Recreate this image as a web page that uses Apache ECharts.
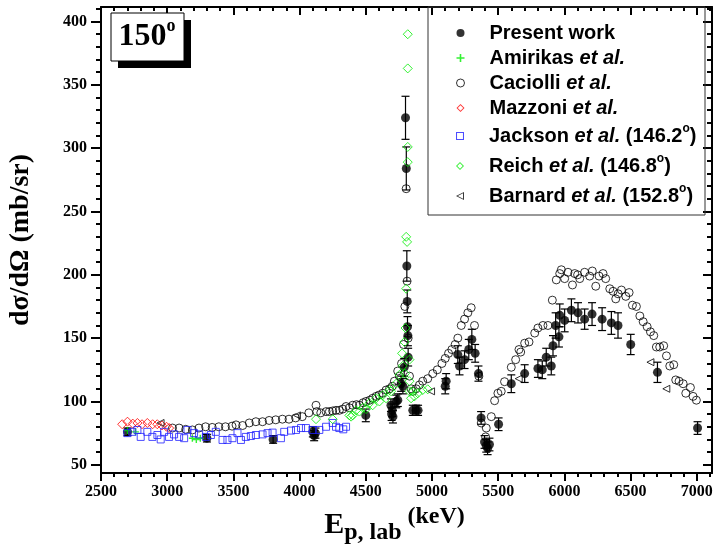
<!DOCTYPE html>
<html><head><meta charset="utf-8">
<script src="https://cdn.jsdelivr.net/npm/echarts@6/dist/echarts.min.js"></script>
<style>html,body{margin:0;padding:0;background:#fff}#c{width:718px;height:545px}</style>
</head><body><div id="c"></div>
<script>
// ---------- tick labels ----------
const xTicks = [2500, 3000, 3500, 4000, 4500, 5000, 5500, 6000, 6500, 7000];
const yTicks = [50, 100, 150, 200, 250, 300, 350, 400];

// ---------- series names ----------
const seriesNames = ['Present work', 'Amirikas et al.', 'Caciolli et al.', 'Mazzoni et al.',
  'Jackson et al. (146.2o)', 'Reich et al. (146.8o)', 'Barnard et al. (152.8o)'];

// ---------- data: [E_p (keV), dsigma/dOmega (mb/sr)] ----------
const presentWork = [
  [2700,76],[3300,71],[3800,70],[4100,76],[4110,73],[4120,75],[4500,89],
  [4690,97],[4695,90],[4700,93],[4705,88],[4730,100],[4742,101],[4767,114],[4780,112],
  [4790,127],[4800,324],[4806,284],[4810,207],[4813,179],[4815,159],[4818,152],[4820,135],
  [4855,93],[4880,93],[4895,93],[5100,112],[5107,116],
  [5195,137],[5208,128],[5246,133],[5278,141],[5301,149],[5326,138],[5351,122],[5371,87],
  [5397,68],[5410,65],[5420,63],[5434,66],[5503,82],[5599,114],[5700,122],[5800,126],
  [5833,125],[5863,135],[5901,128],[5914,144],[5934,160],[5959,151],[5965,168],[6002,164],
  [6053,172],[6103,170],[6153,165],[6209,169],[6285,165],[6355,162],[6405,160],[6501,145],
  [6703,123],[7006,79]
];
const presentErr = [
  3,3,3,4,4,4,5,
  5,5,5,5,5,5,6,6,
  7,17,17,12,9,8,8,7,
  4,4,4,6,6,
  7,7,7,8,8,7,6,5,
  5,5,5,5,5,7,7,7,
  7,7,7,8,10,8,9,9,
  9,8,8,9,9,9,10,8,
  8,5
];
const amirikas = [
  [2700,77],[2760,76],[3190,71],[3220,70],[3250,71]
];
const caciolli = [
  [3040,79],[3090,79],[3140,78],[3190,77.5],[3240,79],[3290,80],[3340,79.5],[3390,80],
  [3440,80],[3490,80.5],[3520,81.5],[3570,81],[3620,83],[3670,84],[3720,84],[3770,85],
  [3820,85.5],[3870,86],[3920,86],[3970,87],[4020,88],[4070,91],[4124,97],[4130,92],
  [4160,91],[4200,92],[4225,92],[4250,92.5],[4275,93],[4300,93],[4326,94],[4351,96],
  [4376,95],[4401,97],[4430,97.5],[4452,97],[4480,99],[4502,100],[4530,101],[4552,102.5],
  [4578,104],[4600,105],[4628,106.5],[4653,109],[4679,110],[4700,112],[4716,116],[4741,124],
  [4754,120],[4770,130],[4785,145],[4795,175],[4805,268],[4812,195],[4820,150],[4830,120],
  [4842,110],[4855,108],[4880,110],[4905,113],[4930,116],[4968,118],[5006,122],[5040,125],
  [5075,130],[5100,134],[5125,138],[5150,141],[5175,145],[5195,150],[5221,160],[5246,165],
  [5271,170],[5296,174],[5321,160],[5354,120],[5372,83],[5405,72],[5410,79],[5448,88],
  [5473,100.6],[5498,106.5],[5523,108],[5548,115.6],[5599,127],[5632,133],[5657,141],[5670,139],
  [5700,146],[5733,147],[5776,154],[5800,158],[5838,160],[5876,160],[5909,180],[5939,196],
  [5965,201],[5977,204],[6002,197],[6027,202],[6061,192],[6078,201],[6100,200],[6116,197],
  [6153,202],[6191,199],[6211,203],[6237,191],[6262,199],[6292,201],[6312,197],[6343,189],
  [6368,187],[6388,181],[6406,185],[6431,188],[6464,183],[6489,186],[6514,176],[6544,175],
  [6570,167.5],[6595,163],[6625,159],[6650,155],[6675,152],[6695,143],[6720,143],[6750,144],
  [6771,136],[6796,128],[6826,129],[6841,117],[6866,116],[6897,114],[6917,106.5],[6952,111],
  [6972,104],[6997,101]
];
const mazzoni = [
  [2660,82],[2700,84],[2740,82.5],[2775,83],[2810,82],[2850,83],[2890,82],[2925,82],
  [2960,81],[2995,80],[3015,79]
];
const jackson = [
  [2699,75],[2737,76],[2775,77.5],[2800,72],[2850,76],[2888,72],[2926,73.5],[2951,70],
  [2977,76],[3014,72],[3052,74],[3090,72],[3128,71],[3153,77.5],[3203,75],[3241,74],
  [3292,72],[3330,73.5],[3367,76],[3418,69.6],[3455,69.6],[3493,71],[3531,75],[3557,69.6],
  [3594,72],[3632,72.7],[3670,73.5],[3720,74],[3758,75],[3796,75.4],[3859,71],[3884,76],
  [3935,77],[3973,77.5],[4011,79],[4048,79],[4098,77.5],[4149,77.5],[4200,80],[4250,83],
  [4275,80],[4300,79],[4330,78],[4351,80]
];
const reich = [
  [4124,86],[4250,86],[4376,89],[4389,88],[4401,89],[4427,93],[4452,92],[4477,95],
  [4502,94],[4527,98.6],[4552,97],[4578,102.5],[4603,100],[4628,105],[4653,102.5],[4679,109],
  [4691,108],[4729,114],[4754,121],[4774,138],[4779,128],[4792,147],[4795,122],[4800,158],
  [4805,189],[4805,230],[4812,226],[4817,289],[4817,301],[4817,363],[4817,390],[4830,133],
  [4830,116],[4830,108],[4842,102.5],[4855,108],[4867,104],[4893,106.5],[4930,109],[4968,109.6]
];
const barnard = [
  [2950,83],[3980,89],[4993,108],[5350,121],[5655,118],[6650,131],[6770,110]
];

// ---------- styling ----------
const SERIF = '"Liberation Serif","Times New Roman",serif';
const SANS = '"Liberation Sans",Arial,sans-serif';
const X_MIN = 2500, X_MAX = 7115, Y_MIN = 43.5, Y_MAX = 411.5;
const xMinor = []; for (let v = 2600; v < X_MAX; v += 100) if (v % 500) xMinor.push(v);
const yMinor = []; for (let v = 60; v < Y_MAX; v += 10) if (v % 50) yMinor.push(v);

const GREEN = '#00ee00', RED = '#ff0000', BLUE = '#2020ff', BLACK = '#000';
const CLEAR = 'rgba(255,255,255,0)';
const PLUS = 'path://M4,0H6V4H10V6H6V10H4V6H0V4H4Z';
const HOLLOW_DIAMOND = 'path://M5,0L10,5L5,10L0,5Z M5,1.6L1.6,5L5,8.4L8.4,5Z';
const HOLLOW_SQUARE = 'path://M0,0H10V10H0Z M1.3,1.3V8.7H8.7V1.3Z';
const HOLLOW_LTRI = 'path://M0,5L10,0L10,10Z M2.2,5L8.8,8.3L8.8,1.7Z';

function axisCommon(type, pos, ticks, len, inside, showLine) {
  return {
    type: 'value', min: type === 'x' ? X_MIN : Y_MIN, max: type === 'x' ? X_MAX : Y_MAX,
    position: pos, splitLine: {show: false},
    axisLine: {show: showLine, onZero: false, lineStyle: {color: BLACK, width: 2}},
    axisTick: {show: true, inside: inside, length: len, customValues: ticks, lineStyle: {color: BLACK, width: 2}},
    axisLabel: {show: false}
  };
}

const xMain = axisCommon('x', 'bottom', xTicks, 8, false, true);
xMain.axisLabel = {show: true, customValues: xTicks, formatter: v => String(v),
  fontFamily: SERIF, fontWeight: 'bold', fontSize: 16, color: BLACK, margin: 11};
xMain.name = '{e|E}{s|p, lab}{k| (keV)}';
xMain.nameLocation = 'middle';
xMain.nameGap = 25;
xMain.nameTextStyle = {
  padding: [0, 24, 0, 0],
  rich: {
    e: {fontFamily: SERIF, fontWeight: 'bold', fontSize: 30, color: BLACK, lineHeight: 40},
    s: {fontFamily: SERIF, fontWeight: 'bold', fontSize: 24, color: BLACK, lineHeight: 26, verticalAlign: 'bottom'},
    k: {fontFamily: SERIF, fontWeight: 'bold', fontSize: 24, color: BLACK, lineHeight: 34, verticalAlign: 'top'}
  }
};
const yMain = axisCommon('y', 'left', yTicks, 10, false, true);
yMain.axisLabel = {show: true, customValues: yTicks, formatter: v => String(v),
  fontFamily: SERIF, fontWeight: 'bold', fontSize: 16, color: BLACK, margin: 14};
yMain.name = 'dσ/dΩ (mb/sr)';
yMain.nameLocation = 'middle';
yMain.nameRotate = 90;
yMain.nameGap = 66;
yMain.nameTextStyle = {fontFamily: SERIF, fontWeight: 'bold', fontSize: 28, color: BLACK};

const xAxes = [
  xMain,
  axisCommon('x', 'bottom', xMinor, 4, false, false),
  axisCommon('x', 'top', xTicks, 8, true, true),
  axisCommon('x', 'top', xMinor, 4, true, false)
];
const yAxes = [
  yMain,
  axisCommon('y', 'left', yMinor, 5, false, false),
  axisCommon('y', 'right', yTicks, 9, true, true),
  axisCommon('y', 'right', yMinor, 5, true, false)
];

const legendText = {
  'Present work': '{g|}{n|Present work}',
  'Amirikas et al.': '{g|}{n|Amirikas }{i|et al.}',
  'Caciolli et al.': '{g|}{n|Caciolli }{i|et al.}',
  'Mazzoni et al.': '{g|}{n|Mazzoni }{i|et al.}',
  'Jackson et al. (146.2o)': '{g|}{n|Jackson }{i|et al.}{n| (146.2}{s|o}{n|)}',
  'Reich et al. (146.8o)': '{g|}{n|Reich }{i|et al.}{n| (146.8}{s|o}{n|)}',
  'Barnard et al. (152.8o)': '{g|}{n|Barnard }{i|et al.}{n| (152.8}{s|o}{n|)}'
};
function richFor(lh) {
  return {
    g: {width: 20},
    n: {fontFamily: SANS, fontWeight: 'bold', fontSize: 20, color: BLACK, lineHeight: lh},
    i: {fontFamily: SANS, fontWeight: 'bold', fontStyle: 'italic', fontSize: 20, color: BLACK, lineHeight: lh},
    s: {fontFamily: SANS, fontWeight: 'bold', fontSize: 12, color: BLACK, lineHeight: 17, verticalAlign: 'top'}
  };
}
const legendBase = {
  orient: 'vertical', itemWidth: 8, itemHeight: 8, left: 451,
  formatter: n => legendText[n], selectedMode: false
};

const symbolStyles = {
  'Present work': {symbol: 'circle', size: 9, itemStyle: {color: BLACK},
    icon: 'circle', iconStyle: {color: BLACK}},
  'Amirikas et al.': {symbol: PLUS, size: 7, itemStyle: {color: GREEN},
    icon: PLUS, iconStyle: {color: GREEN}},
  'Caciolli et al.': {symbol: 'circle', size: 8, itemStyle: {color: CLEAR, borderColor: BLACK, borderWidth: 1},
    icon: 'circle', iconStyle: {color: CLEAR, borderColor: BLACK, borderWidth: 1}},
  'Mazzoni et al.': {symbol: 'diamond', size: 9, itemStyle: {color: CLEAR, borderColor: RED, borderWidth: 1},
    icon: HOLLOW_DIAMOND, iconStyle: {color: RED, borderWidth: 0}},
  'Jackson et al. (146.2o)': {symbol: 'rect', size: 7, itemStyle: {color: CLEAR, borderColor: BLUE, borderWidth: 1},
    icon: HOLLOW_SQUARE, iconStyle: {color: BLUE, borderWidth: 0}},
  'Reich et al. (146.8o)': {symbol: 'diamond', size: 9, itemStyle: {color: CLEAR, borderColor: GREEN, borderWidth: 1},
    icon: HOLLOW_DIAMOND, iconStyle: {color: GREEN, borderWidth: 0}},
  'Barnard et al. (152.8o)': {symbol: 'triangle', size: 7, rotate: 90, itemStyle: {color: CLEAR, borderColor: BLACK, borderWidth: 1},
    icon: HOLLOW_LTRI, iconStyle: {color: BLACK, borderWidth: 0}}
};
const seriesData = {
  'Present work': presentWork, 'Amirikas et al.': amirikas, 'Caciolli et al.': caciolli,
  'Mazzoni et al.': mazzoni, 'Jackson et al. (146.2o)': jackson, 'Reich et al. (146.8o)': reich,
  'Barnard et al. (152.8o)': barnard
};
function legendItem(n) {
  const s = symbolStyles[n];
  return {name: n, icon: s.icon, itemStyle: s.iconStyle};
}

const scatterSeries = seriesNames.map((n, k) => {
  const s = symbolStyles[n];
  return {
    type: 'scatter', name: n, data: seriesData[n], symbol: s.symbol, symbolSize: s.size,
    symbolRotate: s.rotate || 0, itemStyle: s.itemStyle, z: 3 + k, silent: true
  };
});

const errorSeries = {
  type: 'custom', name: 'err', z: 2, silent: true,
  data: presentWork.map((p, i) => [p[0], p[1] - presentErr[i], p[1] + presentErr[i]]),
  encode: {x: 0, y: [1, 2]},
  renderItem: function (params, api) {
    const x = api.value(0);
    const lo = api.coord([x, api.value(1)]);
    const hi = api.coord([x, api.value(2)]);
    const w = 4;
    const st = {stroke: BLACK, lineWidth: 1.2};
    return {type: 'group', children: [
      {type: 'line', shape: {x1: lo[0], y1: lo[1], x2: hi[0], y2: hi[1]}, style: st},
      {type: 'line', shape: {x1: lo[0] - w, y1: lo[1], x2: lo[0] + w, y2: lo[1]}, style: st},
      {type: 'line', shape: {x1: hi[0] - w, y1: hi[1], x2: hi[0] + w, y2: hi[1]}, style: st}
    ]};
  }
};

const chart = echarts.init(document.getElementById('c'), null, {renderer: 'canvas'});
chart.setOption({
  animation: false,
  backgroundColor: '#fff',
  grid: {left: 101, right: 6, top: 7, bottom: 72, containLabel: false, outerBoundsMode: 'none'},
  xAxis: xAxes,
  yAxis: yAxes,
  legend: [
    Object.assign({}, legendBase, {top: 17, itemGap: 3, data: seriesNames.slice(0, 4).map(legendItem),
      textStyle: {fontSize: 20, lineHeight: 22, rich: richFor(22)}}),
    Object.assign({}, legendBase, {top: 118, itemGap: 4, data: seriesNames.slice(4).map(legendItem),
      textStyle: {fontSize: 20, lineHeight: 26, rich: richFor(26)}})
  ],
  graphic: [
    {type: 'rect', z: 100, shape: {x: 428, y: 7, width: 277, height: 208}, style: {fill: 'none', stroke: '#333', lineWidth: 1}},
    {type: 'rect', z: 100, shape: {x: 118, y: 20, width: 73, height: 48}, style: {fill: BLACK}},
    {type: 'rect', z: 101, shape: {x: 111, y: 13, width: 73, height: 48}, style: {fill: '#fff', stroke: BLACK, lineWidth: 1}},
    {type: 'text', z: 102, x: 147, y: 37, style: {
      text: '{a|150}{b|o}', align: 'center', verticalAlign: 'middle',
      rich: {
        a: {fontFamily: SERIF, fontWeight: 'bold', fontSize: 32, fill: BLACK, lineHeight: 40},
        b: {fontFamily: SERIF, fontWeight: 'bold', fontSize: 18, fill: BLACK, lineHeight: 25, verticalAlign: 'top'}
      }
    }}
  ],
  series: [errorSeries].concat(scatterSeries)
});
</script></body></html>
